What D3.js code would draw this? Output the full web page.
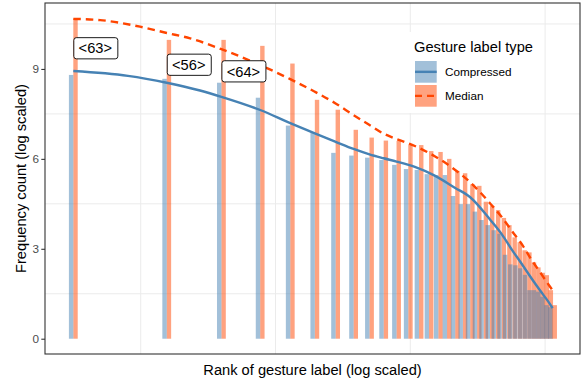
<!DOCTYPE html>
<html><head><meta charset="utf-8">
<script src="https://cdn.jsdelivr.net/npm/d3@7"></script>
<style>
body{margin:0;background:#fff}
svg{display:block}
text{font-family:"Liberation Sans",Arial,Helvetica,sans-serif}
</style>
</head><body>
<svg id="c" width="584" height="379"></svg>
<script>
// ---- data ----
const ranks = [1,2,3,4,5,6,7,8,9,10,11,12,13,14,15,16,17,18,19,20,21,22,23,24,25,26,27,28,29,30,31,32,33,34,35];
const compressed = [8.80,8.67,8.54,8.04,7.11,6.89,6.20,6.11,6.04,5.96,5.80,5.66,5.63,5.49,5.46,5.46,4.76,4.49,4.49,4.24,3.96,3.79,3.62,3.50,2.80,2.48,2.45,2.35,2.13,1.62,1.62,1.57,1.40,1.12,1.05];
const median = [10.67,9.97,9.97,9.77,9.18,7.97,7.64,6.97,6.71,6.61,6.60,6.47,6.46,6.26,6.23,6.00,5.60,5.52,5.15,5.10,4.57,4.43,4.29,4.03,3.79,3.38,3.22,2.95,2.88,2.55,2.38,2.20,2.12,1.62,1.12];

const smoothCompRanks = [1,1.5,2,2.56,3,4,5,6,7,8,9,10,11,12.6,14.6,17,19,22,24,26,28,30,32,34,35];
const smoothComp = [8.93,8.77,8.54,8.28,8.07,7.63,7.19,6.85,6.57,6.33,6.15,6.02,5.91,5.73,5.44,5.03,4.72,3.98,3.49,2.94,2.46,2.00,1.59,1.22,1.02];
const smoothMedRanks = [1,1.22,1.64,2,2.38,3,4,5,6,7,8,9,10,11,12.6,14.6,17,19,22,24,26,28,30,32,34,35];
const smoothMed = [10.67,10.63,10.41,10.2,10.02,9.66,9.13,8.66,8.24,7.85,7.46,7.13,6.84,6.66,6.43,6.09,5.63,5.22,4.52,4.06,3.57,3.12,2.62,2.20,1.80,1.62];

const labelTexts = ["<63>","<56>","<64>"];
const labelRanks = [1,2,3];
const labelValues = [9.69,9.14,8.92];

const yTicks = [0,3,6,9];
const yGrid = [1.5,4.5,7.5,10.5];
const xGridLog = [0.5,1.5,2.5,3.5];

const seriesNames = ["Compressed","Median"];
const legendTitle = "Gesture label type";
const xTitle = "Rank of gesture label (log scaled)";
const yTitle = "Frequency count (log scaled)";

// ---- layout ----
const P = {l:45, r:580, t:3, b:354};
const blueLine = "#4682b4", blueFill = "rgba(70,130,180,0.5)";
const orLine = "#ff4500", orFill = "rgba(255,69,0,0.5)";
const bw = 4.4;

const svg = d3.select("#c");
const x = d3.scaleLog().base(Math.E).domain([Math.exp(-0.21), Math.exp(3.759)]).range([P.l, P.r]);
const y = d3.scaleLinear().domain([-0.51, 11.2]).range([P.b, P.t]);

svg.append("defs").append("clipPath").attr("id","clip")
  .append("rect").attr("x",P.l).attr("y",P.t).attr("width",P.r-P.l).attr("height",P.b-P.t);

const g = svg.append("g").attr("clip-path","url(#clip)");
// grid
g.selectAll(".hg").data(yGrid).join("line")
  .attr("x1",P.l).attr("x2",P.r).attr("y1",d=>y(d)).attr("y2",d=>y(d))
  .attr("stroke","#ebebeb").attr("stroke-width",1);
g.selectAll(".vg").data(xGridLog).join("line")
  .attr("x1",d=>x(Math.exp(d))).attr("x2",d=>x(Math.exp(d))).attr("y1",P.t).attr("y2",P.b)
  .attr("stroke","#ebebeb").attr("stroke-width",1);

// bars: median first, compressed on top
g.selectAll(".mb").data(ranks).join("rect")
  .attr("x",(d)=>x(d)).attr("width",bw)
  .attr("y",(d,i)=>y(median[i])).attr("height",(d,i)=>y(0)-y(median[i]))
  .attr("fill",orFill);
g.selectAll(".cb").data(ranks).join("rect")
  .attr("x",(d)=>x(d)-bw).attr("width",bw)
  .attr("y",(d,i)=>y(compressed[i])).attr("height",(d,i)=>y(0)-y(compressed[i]))
  .attr("fill",blueFill);

// smooth lines
const line = d3.line().curve(d3.curveMonotoneX);
g.append("path")
  .attr("d", line(smoothCompRanks.map((r,i)=>[x(r), y(smoothComp[i])])))
  .attr("fill","none").attr("stroke",blueLine).attr("stroke-width",2.4);
g.append("path")
  .attr("d", line(smoothMedRanks.map((r,i)=>[x(r), y(smoothMed[i])])))
  .attr("fill","none").attr("stroke",orLine).attr("stroke-width",2.4)
  .attr("stroke-dasharray","7.5,5");

// labels
const lg = svg.append("g");
labelTexts.forEach((t,i)=>{
  const lx = x(labelRanks[i]), ly = y(labelValues[i]);
  const tx = lg.append("text").attr("x",lx+5.3).attr("y",ly+5.2)
    .attr("font-size","14.67px").attr("fill","#000").text(t);
  const w = tx.node().getComputedTextLength();
  lg.insert("rect","text").attr("x",lx+0.5).attr("y",ly-10.6).attr("width",w+10.6).attr("height",21.2)
    .attr("rx",2.6).attr("fill","#fff").attr("stroke","#000").attr("stroke-width",0.9);
});

// panel border
svg.append("rect").attr("x",P.l).attr("y",P.t).attr("width",P.r-P.l).attr("height",P.b-P.t)
  .attr("fill","none").attr("stroke","#333").attr("stroke-width",1.1);

// y axis
const ya = svg.append("g").attr("transform",`translate(${P.l},0)`)
  .call(d3.axisLeft(y).tickValues(yTicks).tickSize(3.7).tickPadding(2.2).tickFormat(d3.format("d")));
ya.select(".domain").remove();
ya.selectAll(".tick line").attr("stroke","#333").attr("stroke-width",1.1);
ya.selectAll(".tick text").attr("fill","#4d4d4d").attr("font-size","11.73px")
  .attr("font-family","Liberation Sans, Arial, sans-serif");

// titles
svg.append("text").attr("x",(P.l+P.r)/2).attr("y",375).attr("text-anchor","middle")
  .attr("font-size","14.67px").attr("fill","#000").text(xTitle);
svg.append("text").attr("transform",`translate(26,${(P.t+P.b)/2}) rotate(-90)`).attr("text-anchor","middle")
  .attr("font-size","14.67px").attr("fill","#000").text(yTitle);

// legend
const L = svg.append("g");
L.append("rect").attr("x",406).attr("y",32).attr("width",136).attr("height",81).attr("fill","#fff");
L.append("text").attr("x",414).attr("y",52.2).attr("font-size","14.67px").attr("fill","#000").text(legendTitle);
const keyStyles = [{fill:blueFill, stroke:blueLine, dash:null},{fill:orFill, stroke:orLine, dash:"7,5"}];
seriesNames.forEach((n,i)=>{
  const ky = 61 + i*24;
  L.append("rect").attr("x",415).attr("y",ky).attr("width",21.7).attr("height",21.7).attr("fill",keyStyles[i].fill);
  const ln = L.append("line").attr("x1",415).attr("x2",436.7).attr("y1",ky+10.85).attr("y2",ky+10.85)
    .attr("stroke",keyStyles[i].stroke).attr("stroke-width",2.4);
  if (keyStyles[i].dash) ln.attr("stroke-dasharray",keyStyles[i].dash);
  L.append("text").attr("x",445).attr("y",ky+15.3).attr("font-size","11.73px").attr("fill","#000").text(n);
});
</script>
</body></html>
